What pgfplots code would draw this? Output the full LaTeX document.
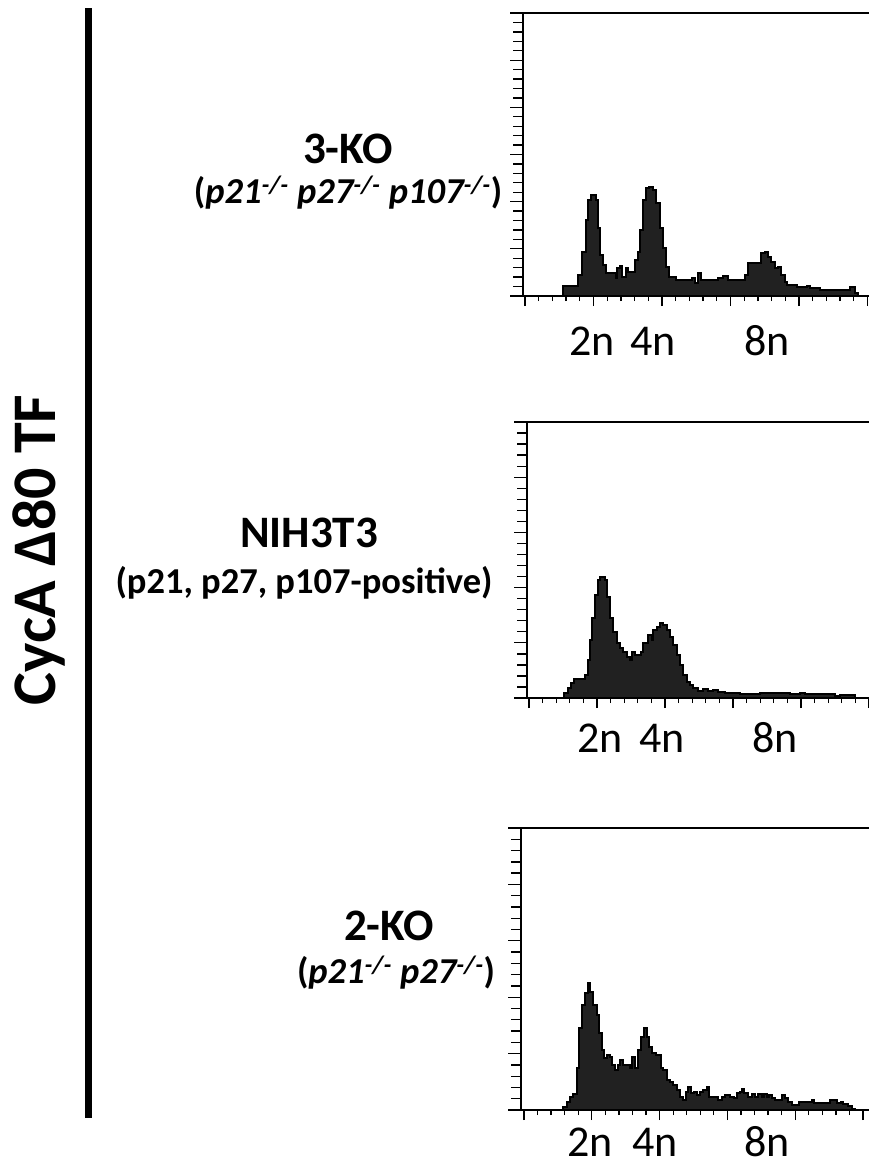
\documentclass[border=0pt]{standalone}
\usepackage{fontspec}
\setmainfont{Carlito}
\usepackage{graphicx}
\usepackage{pgfplots}
\pgfplotsset{compat=1.18}

\definecolor{histfill}{RGB}{33,33,33}
\newcommand\ticklab{\fontsize{44}{48}\selectfont}
\newcommand\titlefont{\fontsize{45}{50}\selectfont\bfseries}
\newcommand\subfont{\fontsize{36.5}{42}\selectfont\bfseries}

\pgfplotsset{
  base/.style={
    x=1pt, y=1pt, ymin=0, enlargelimits=false,
    axis line style={-, line width=1.5pt},
    tick align=outside,
    xticklabels={}, yticklabels={},
    tick style={black, line width=1.3pt},
    clip=false, anchor=south west,
  },
  % histogram and x ticks
  histo/.style={base,
    axis x line*=bottom, axis y line*=left, ytick=\empty,
    major tick length=10pt, minor tick length=5pt, minor x tick num=4,
  },
  % overlay that carries the y ticks
  yticks/.style={base,
    axis y line*=left, axis x line=none, xtick=\empty,
    major tick length=13pt, minor tick length=10pt, minor y tick num=4,
  },
  hist/.style={const plot, fill=histfill, draw=black, line width=1.3pt},
}
\tikzset{nlab/.style={anchor=base, inner sep=0pt, font=\ticklab}}

\begin{document}
\begin{tikzpicture}[x=1pt,y=1pt]
\path[use as bounding box] (0,0) rectangle (869,-1168);

% left bracket and rotated title
\fill (85,-7.5) rectangle (92,-1118);
\node[rotate=90, anchor=base, font=\fontsize{62}{70}\selectfont\bfseries] at (55,-550) {CycA Δ80 TF};

% row labels
\node[anchor=base, font=\titlefont] at (348,-163) {3-KO};
\node[anchor=base, font=\subfont] at (348,-203) {(\textit{p21\textsuperscript{-/-} p27\textsuperscript{-/-} p107\textsuperscript{-/-}})};
\node[anchor=base, font=\titlefont] at (309,-547) {NIH3T3};
\node[anchor=base, font=\subfont] at (304,-593) {(p21, p27, p107-positive)};
\node[anchor=base, font=\titlefont] at (389,-940) {2-KO};
\node[anchor=base, font=\subfont] at (396,-983) {(\textit{p21\textsuperscript{-/-} p27\textsuperscript{-/-}})};

% 3-KO
\begin{axis}[histo, at={(523pt,-296pt)}, xmin=523, xmax=869, ymax=283,
  xtick={525,593.5,662,730.5,799,867.5}]
\addplot[hist] coordinates {
(523,0) (563,10) (578,21) (582,44) (586,76) (588,96) (591,101) (596,96)
(598,68) (600,41) (603,31) (606,23) (616,18) (617,28) (620,30) (622,19)
(626,28) (628,24) (635,36) (638,44) (640,66) (643,96) (646,108) (649,109)
(653,106) (656,93) (660,68) (663,48) (666,29) (669,19) (676,16) (691,16)
(692,18) (695,13) (698,23) (701,16) (718,18) (723,20) (728,16) (745,21)
(748,33) (758,33) (761,43) (765,44) (768,39) (771,34) (775,28) (778,29)
(781,21) (785,14) (787,11) (797,9) (807,10) (810,8) (820,6) (850,9)
(855,3) (858,0)
} \closedcycle;
\draw[line width=1.5pt] (rel axis cs:0,1) -- (rel axis cs:1,1);
\node[nlab] at (axis cs:592,-59) {2n};
\node[nlab] at (axis cs:653,-59) {4n};
\node[nlab] at (axis cs:767,-59) {8n};
\end{axis}
\begin{axis}[yticks, at={(523pt,-296pt)}, xmin=523, xmax=869, ymax=283,
  ytick={0,47.17,94.33,141.5,188.67,235.83,283},
  minor ytick={9.43,18.87,28.3,37.73,56.6,66.03,75.47,84.9,103.77,113.2,
    122.63,132.07,150.93,160.37,169.8,179.23,198.1,207.53,216.97,226.4,
    245.27,254.7,264.13,273.57}]
\end{axis}

% NIH3T3
\begin{axis}[histo, at={(527pt,-698pt)}, xmin=527, xmax=869, ymax=276,
  xtick={529,597,665,733,801,869}]
\addplot[hist] coordinates {
(527,0) (564,5) (568,10) (571,15) (574,19) (585,23) (588,38) (590,58)
(592,80) (595,103) (598,118) (600,121) (605,118) (607,101) (610,80) (613,66)
(617,55) (620,50) (623,46) (627,41) (630,38) (632,46) (635,43) (641,46)
(643,55) (648,63) (652,58) (653,68) (657,71) (660,75) (663,73) (667,68)
(670,61) (673,53) (677,43) (680,33) (683,23) (687,16) (690,13) (693,10)
(698,7) (703,9) (708,7) (713,8) (718,6) (725,5) (740,4) (760,5)
(790,4) (800,5) (805,4) (832,4) (835,2) (840,3) (855,0)
} \closedcycle;
\draw[line width=1.5pt] (rel axis cs:0,1) -- (rel axis cs:1,1);
\node[nlab] at (axis cs:600,-54) {2n};
\node[nlab] at (axis cs:662,-54) {4n};
\node[nlab] at (axis cs:775,-54) {8n};
\end{axis}
\begin{axis}[yticks, at={(527pt,-698pt)}, xmin=527, xmax=869, ymax=276,
  ytick={0,55.2,110.4,165.6,220.8,276}]
\end{axis}

% 2-KO
\begin{axis}[histo, at={(521pt,-1110pt)}, xmin=521, xmax=869, ymax=282,
  xtick={524,591.8,659.6,727.4,795.2,863}]
\addplot[hist] coordinates {
(521,0) (563,3) (567,8) (570,13) (573,16) (577,42) (579,82) (582,105)
(585,117) (588,127) (590,118) (593,105) (597,95) (599,77) (602,60) (604,52)
(607,55) (610,53) (612,45) (615,40) (618,45) (620,50) (623,45) (630,42)
(632,53) (635,42) (638,60) (641,73) (644,82) (647,73) (649,63) (652,57)
(656,55) (661,42) (663,40) (667,30) (670,28) (673,25) (677,20) (680,13)
(683,10) (686,18) (688,23) (691,17) (694,18) (697,15) (700,18) (703,20)
(707,23) (709,13) (718,10) (722,13) (725,15) (730,13) (734,12) (737,17)
(740,18) (742,21) (744,17) (748,13) (752,16) (755,13) (758,16) (762,13)
(764,16) (767,13) (769,15) (772,12) (775,10) (782,15) (785,12) (788,8)
(792,5) (799,8) (812,10) (814,7) (830,10) (837,7) (841,8) (843,6)
(848,4) (852,1) (855,0)
} \closedcycle;
\draw[line width=1.5pt] (rel axis cs:0,1) -- (rel axis cs:1,1);
\node[nlab] at (axis cs:590,-46) {2n};
\node[nlab] at (axis cs:655,-46) {4n};
\node[nlab] at (axis cs:767,-46) {8n};
\end{axis}
\begin{axis}[yticks, at={(521pt,-1110pt)}, xmin=521, xmax=869, ymax=282,
  ytick={0,56.4,112.8,169.2,225.6,282}]
\end{axis}
\end{tikzpicture}
\end{document}
